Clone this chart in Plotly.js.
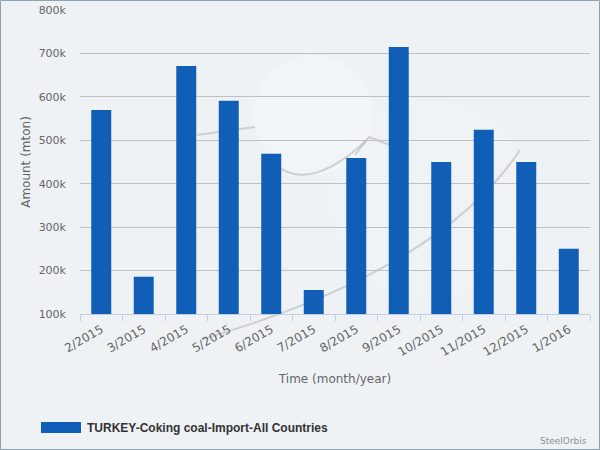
<!DOCTYPE html>
<html>
<head>
<meta charset="utf-8">
<script src="https://cdn.plot.ly/plotly-3.0.1.min.js"></script>
<style>
html,body{margin:0;padding:0;background:#eef2f5;}
#chart{width:600px;height:450px;}
</style>
</head>
<body>
<div id="chart"></div>
<script>
const months = ["2/2015","3/2015","4/2015","5/2015","6/2015","7/2015","8/2015","9/2015","10/2015","11/2015","12/2015","1/2016"];
const amounts = [570000,186000,671000,591000,469000,155000,459000,715000,450000,524000,450000,250000];
const seriesName = "TURKEY-Coking coal-Import-All Countries";
const yTicks = [100000,200000,300000,400000,500000,600000,700000,800000];

const font = "DejaVu Sans, Verdana, sans-serif";
const legendFont = "Liberation Sans, Arial, sans-serif";
const barColor = "#105eb6";

// helpers converting pixel positions of decorative elements to paper coords
const PX0 = 80, PW = 510, PY0 = 314, PH = 304;
const px = v => (v - PX0) / PW;
const py = v => (PY0 - v) / PH;

const trace = {
  type: "bar",
  x: months,
  y: amounts,
  name: seriesName,
  marker: {color: barColor},
  hoverinfo: "x+y",
  showlegend: false
};

const wmLine = {color: "rgba(165,165,165,0.45)", width: 2};

const layout = {
  width: 600, height: 450,
  margin: {l: 80, r: 10, t: 10, b: 136},
  paper_bgcolor: "#eef2f5",
  plot_bgcolor: "rgba(0,0,0,0)",
  bargap: 0.53,
  font: {family: font, color: "#666666", size: 11},
  xaxis: {
    type: "category",
    tickson: "boundaries",
    ticks: "outside", ticklen: 6, tickcolor: "#c0d0e0", tickwidth: 1,
    showline: true, linecolor: "#c0d0e0", linewidth: 1,
    showgrid: false, zeroline: false,
    tickangle: -30,
    ticklabelstandoff: 3,
    tickfont: {family: font, size: 12, color: "#666666"},
    title: {text: "Time (month/year)", font: {family: font, size: 12, color: "#666666"}, standoff: 16},
    automargin: false
  },
  yaxis: {
    range: [100000, 800000],
    tickvals: yTicks,
    tickformat: "~s",
    showgrid: true, gridcolor: "#c0c0c0", gridwidth: 1,
    zeroline: false, showline: false,
    ticks: "", ticklen: 0,
    ticklabelstandoff: 13,
    tickfont: {family: font, size: 11, color: "#666666"},
    title: {text: "Amount (mton)", font: {family: font, size: 12, color: "#666666"}, standoff: 5},
    automargin: false
  },
  showlegend: false,
  annotations: [
    {text: seriesName, xref: "paper", yref: "paper",
     x: px(85), y: py(428), xanchor: "left", yanchor: "middle",
     showarrow: false, font: {family: legendFont, size: 12, color: "#333333", weight: "bold"}},
    {text: "SteelOrbis", xref: "paper", yref: "paper",
     x: px(589), y: py(441), xanchor: "right", yanchor: "middle",
     showarrow: false, font: {family: font, size: 9, color: "#909090"}}
  ],
  shapes: [
    {type: "rect", xref: "paper", yref: "paper", x0: px(0.5), x1: px(599.5), y0: py(449.5), y1: py(0.5),
     line: {color: "#8fa2b4", width: 1}, fillcolor: "rgba(0,0,0,0)", layer: "below"},
    {type: "rect", xref: "paper", yref: "paper", x0: px(41), x1: px(81), y0: py(433), y1: py(422),
     line: {width: 0}, fillcolor: barColor, layer: "below"},
    {type: "circle", xref: "paper", yref: "paper", x0: px(253), x1: px(373), y0: py(175), y1: py(55),
     line: {width: 0}, fillcolor: "rgba(255,255,255,0.22)", layer: "below"},
    {type: "circle", xref: "paper", yref: "paper", x0: px(330), x1: px(530), y0: py(300), y1: py(100),
     line: {width: 0}, fillcolor: "rgba(255,255,255,0.12)", layer: "below"},
    {type: "path", xref: "paper", yref: "paper", layer: "below",
     path: "M " + px(280) + "," + py(168) + " Q " + px(313) + "," + py(190) + " " + px(367) + "," + py(140),
     line: wmLine},
    {type: "path", xref: "paper", yref: "paper", layer: "below",
     path: "M " + px(197) + "," + py(135) + " L " + px(255) + "," + py(127),
     line: wmLine},
    {type: "path", xref: "paper", yref: "paper", layer: "below",
     path: "M " + px(203) + "," + py(339) + " Q " + px(440) + "," + py(270) + " " + px(520) + "," + py(150),
     line: wmLine},
    {type: "path", xref: "paper", yref: "paper", layer: "below",
     path: "M " + px(355) + "," + py(155) + " L " + px(369) + "," + py(137) + " L " + px(390) + "," + py(145),
     line: wmLine}
  ]
};

Plotly.newPlot("chart", [trace], layout, {displayModeBar: false, staticPlot: true});
</script>
</body>
</html>
